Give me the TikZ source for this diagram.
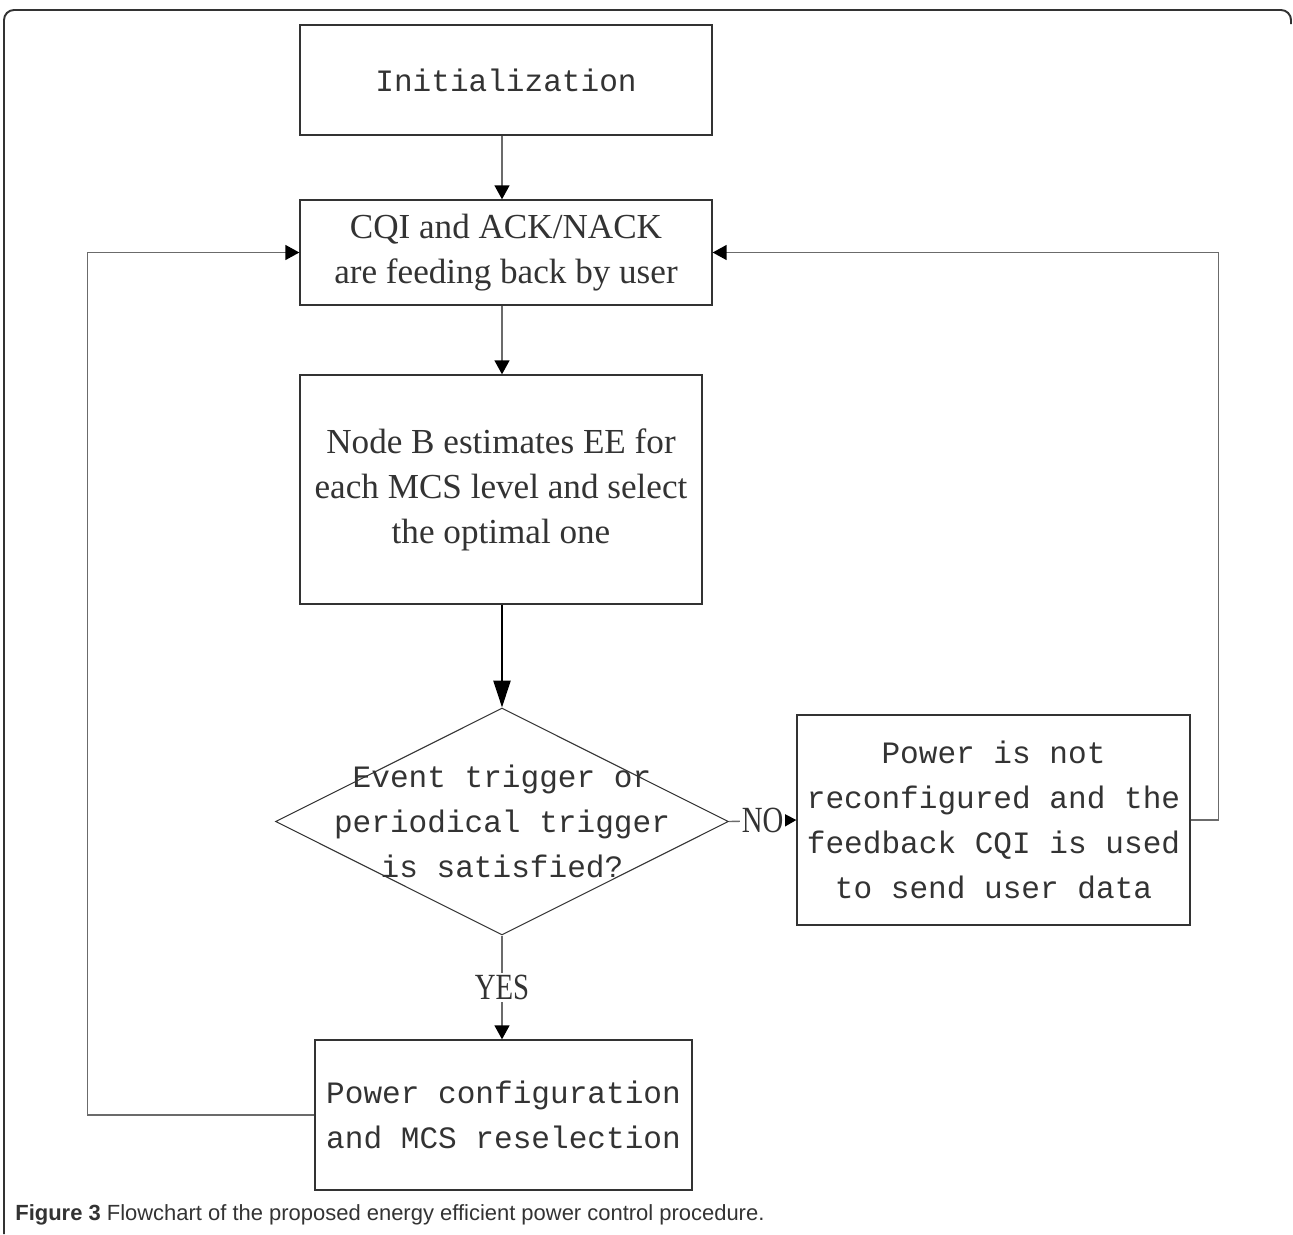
\documentclass[tikz,border=0pt]{standalone}
\usepackage{fontspec}
\setmainfont{Liberation Serif}
\newfontfamily\monofont{Liberation Mono}
\newfontfamily\capfont{Liberation Sans}
\usepackage{graphicx}
\usepackage{xcolor}
\usepackage{tikz}
\usetikzlibrary{arrows.meta, shapes.geometric}
\definecolor{inkgray}{gray}{0.2}
\definecolor{linegray}{gray}{0.42}
\newcommand{\narrowlabel}[1]{\scalebox{0.78}[1]{#1}}

\begin{document}
\begin{tikzpicture}[
    x=0.02cm, y=-0.02cm,
    box/.style={rectangle, draw=inkgray, line width=0.8pt, text=inkgray, align=center, inner sep=0pt},
    decision/.style={diamond, draw=inkgray, line width=0.6pt, inner sep=0pt, minimum width=9.06cm, minimum height=4.54cm},
    monotext/.style={font=\monofont\fontsize{17.7}{25.6}\selectfont},
    serifboxtext/.style={font=\fontsize{20}{25.6}\selectfont},
    arrow/.style={-{Triangle[length=0.28cm, width=0.3cm, color=black]}, line width=0.8pt, linegray},
    bigarrow/.style={-{Triangle[length=0.54cm, width=0.34cm]}, line width=1.4pt, black},
    answer/.style={fill=white, inner sep=1pt, text=inkgray, font=\fontsize{21}{24}\selectfont}
]
\useasboundingbox (0,0) rectangle (1293,1234);

% Outer frame (top and left edge)
\draw[inkgray, line width=1.1pt, rounded corners=0.2cm] (4,1234) -- (4,10) -- (1291,10) -- (1291,24);

% Boxes (top to bottom)
\node[box, monotext, minimum width=8.24cm, minimum height=2.2cm] (init) at (506,80) {Initialization};
\node[box, serifboxtext, minimum width=8.24cm, minimum height=2.1cm] (cqi) at (506,252.5) {CQI and ACK/NACK\\are feeding back by user};
\node[box, serifboxtext, minimum width=8.04cm, minimum height=4.58cm] (nodeb) at (501,489.5) {Node B estimates EE for\\each MCS level and select\\the optimal one};
\node[decision] (dec) at (502,821.5) {};
\node[monotext, text=inkgray, align=center] (dectext) at (dec.center) {Event trigger or\\periodical trigger\\is satisfied?};
\node[box, monotext, minimum width=7.86cm, minimum height=4.2cm] (keep) at (993.5,820) {Power is not\\reconfigured and the\\feedback CQI is used\\to send user data};
\node[box, monotext, minimum width=7.54cm, minimum height=3.0cm] (conf) at (503.5,1115) {Power configuration\\and MCS reselection};

% Main flow (all on the column of the diamond)
\draw[arrow] (init.south -| dec.north) -- (cqi.north -| dec.north);
\draw[arrow] (cqi.south -| dec.north) -- (nodeb.north -| dec.north);
\draw[bigarrow] (nodeb.south -| dec.north) -- (dec.north);
\draw[arrow] (dec.east) -- node[answer] (no) {\narrowlabel{NO}} (keep.west);
\draw[arrow] (dec.south) -- node[answer] (yes) {\narrowlabel{YES}} (conf.north -| dec.south);

% Feedback loops back to the CQI box
\draw[arrow] (keep.east) -- ++(28,0) |- (cqi.east);
\draw[arrow] (conf.west) -- ++(-227,0) |- (cqi.west);

% Caption
\node[anchor=base west, inner sep=0pt, text=inkgray, font=\capfont\fontsize{12.5}{15}\selectfont] (caption) at (15,1220)
    {\textbf{Figure 3} Flowchart of the proposed energy efficient power control procedure.};

\end{tikzpicture}
\end{document}
